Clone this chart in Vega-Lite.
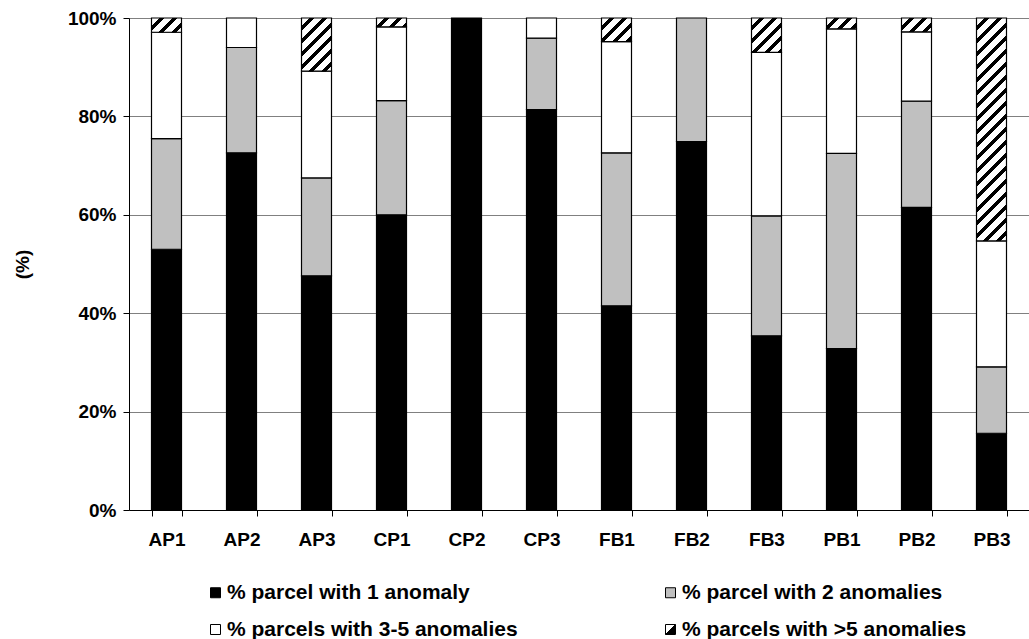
{
  "$schema": "https://vega.github.io/schema/vega-lite/v6.json",
  "width": 900,
  "height": 492,
  "autosize": {"type": "none"},
  "padding": {"left": 129, "top": 18, "right": 0, "bottom": 129},
  "background": "white",
  "config": {"view": {"stroke": null}, "font": "Liberation Sans"},
  "data": {"values": [
    {"Parcel": "AP1", "Category": "% parcel with 1 anomaly", "value": 53.0},
    {"Parcel": "AP1", "Category": "% parcel with 2 anomalies", "value": 22.5},
    {"Parcel": "AP1", "Category": "% parcels with 3-5 anomalies", "value": 21.6},
    {"Parcel": "AP1", "Category": "% parcels with >5 anomalies", "value": 2.9},
    {"Parcel": "AP2", "Category": "% parcel with 1 anomaly", "value": 72.6},
    {"Parcel": "AP2", "Category": "% parcel with 2 anomalies", "value": 21.4},
    {"Parcel": "AP2", "Category": "% parcels with 3-5 anomalies", "value": 6.0},
    {"Parcel": "AP3", "Category": "% parcel with 1 anomaly", "value": 47.6},
    {"Parcel": "AP3", "Category": "% parcel with 2 anomalies", "value": 19.9},
    {"Parcel": "AP3", "Category": "% parcels with 3-5 anomalies", "value": 21.7},
    {"Parcel": "AP3", "Category": "% parcels with >5 anomalies", "value": 10.8},
    {"Parcel": "CP1", "Category": "% parcel with 1 anomaly", "value": 60.0},
    {"Parcel": "CP1", "Category": "% parcel with 2 anomalies", "value": 23.2},
    {"Parcel": "CP1", "Category": "% parcels with 3-5 anomalies", "value": 15.0},
    {"Parcel": "CP1", "Category": "% parcels with >5 anomalies", "value": 1.8},
    {"Parcel": "CP2", "Category": "% parcel with 1 anomaly", "value": 100.0},
    {"Parcel": "CP3", "Category": "% parcel with 1 anomaly", "value": 81.4},
    {"Parcel": "CP3", "Category": "% parcel with 2 anomalies", "value": 14.5},
    {"Parcel": "CP3", "Category": "% parcels with 3-5 anomalies", "value": 4.1},
    {"Parcel": "FB1", "Category": "% parcel with 1 anomaly", "value": 41.5},
    {"Parcel": "FB1", "Category": "% parcel with 2 anomalies", "value": 31.1},
    {"Parcel": "FB1", "Category": "% parcels with 3-5 anomalies", "value": 22.6},
    {"Parcel": "FB1", "Category": "% parcels with >5 anomalies", "value": 4.8},
    {"Parcel": "FB2", "Category": "% parcel with 1 anomaly", "value": 74.9},
    {"Parcel": "FB2", "Category": "% parcel with 2 anomalies", "value": 25.1},
    {"Parcel": "FB3", "Category": "% parcel with 1 anomaly", "value": 35.4},
    {"Parcel": "FB3", "Category": "% parcel with 2 anomalies", "value": 24.4},
    {"Parcel": "FB3", "Category": "% parcels with 3-5 anomalies", "value": 33.2},
    {"Parcel": "FB3", "Category": "% parcels with >5 anomalies", "value": 7.0},
    {"Parcel": "PB1", "Category": "% parcel with 1 anomaly", "value": 32.8},
    {"Parcel": "PB1", "Category": "% parcel with 2 anomalies", "value": 39.7},
    {"Parcel": "PB1", "Category": "% parcels with 3-5 anomalies", "value": 25.3},
    {"Parcel": "PB1", "Category": "% parcels with >5 anomalies", "value": 2.2},
    {"Parcel": "PB2", "Category": "% parcel with 1 anomaly", "value": 61.5},
    {"Parcel": "PB2", "Category": "% parcel with 2 anomalies", "value": 21.6},
    {"Parcel": "PB2", "Category": "% parcels with 3-5 anomalies", "value": 14.1},
    {"Parcel": "PB2", "Category": "% parcels with >5 anomalies", "value": 2.8},
    {"Parcel": "PB3", "Category": "% parcel with 1 anomaly", "value": 15.6},
    {"Parcel": "PB3", "Category": "% parcel with 2 anomalies", "value": 13.5},
    {"Parcel": "PB3", "Category": "% parcels with 3-5 anomalies", "value": 25.6},
    {"Parcel": "PB3", "Category": "% parcels with >5 anomalies", "value": 45.3}
  ]},
  "mark": {"type": "bar", "stroke": "#000", "strokeWidth": 1.2},
  "encoding": {
    "x": {
      "field": "Parcel", "type": "nominal", "sort": null,
      "scale": {"paddingInner": 0.6, "paddingOuter": 0.3},
      "axis": {"title": null, "labelAngle": 0, "labelFontSize": 19, "labelFontWeight": "bold", "labelColor": "#000", "labelPadding": 14, "tickSize": 6, "tickColor": "#000", "domainColor": "#000", "tickBand": "extent", "grid": false}
    },
    "y": {
      "field": "value", "type": "quantitative", "stack": "zero",
      "scale": {"domain": [0, 100], "nice": false},
      "axis": {"values": [0, 20, 40, 60, 80, 100], "labelExpr": "datum.value + '%'", "labelFontSize": 19, "labelFontWeight": "bold", "labelColor": "#000", "labelPadding": 7, "tickSize": 6, "tickColor": "#000", "domainColor": "#000", "grid": true, "gridColor": "#808080", "gridWidth": 1, "title": "(%)", "titleFontSize": 19, "titleFontWeight": "bold", "titleColor": "#000", "titleAngle": -90, "titleX": -107, "titleY": 246, "titleBaseline": "middle", "titleAlign": "center"}
    },
    "order": {"field": "Category", "sort": "ascending"},
    "fill": {
      "field": "Category", "type": "nominal",
      "scale": {
        "domain": ["% parcel with 1 anomaly", "% parcel with 2 anomalies", "% parcels with 3-5 anomalies", "% parcels with >5 anomalies"],
        "range": ["#000000", "#c0c0c0", "#ffffff", "#ffffff"]
      },
      "legend": {"orient": "none", "direction": "horizontal", "legendX": 76, "legendY": 564, "columns": 2, "title": null, "symbolType": "square", "symbolSize": 100, "symbolStrokeColor": "#000", "symbolStrokeWidth": 1, "labelFontSize": 21, "labelFontWeight": "bold", "labelColor": "#000", "labelOffset": 1, "columnPadding": 142, "rowPadding": 15, "labelLimit": 400,
        "encode": {"symbols": {"update": {
          "stroke": {"value": "#000"},
          "strokeWidth": {"value": 1},
          "shape": {"signal": "indexof(datum.value, '>5') >= 0 ? 'M-1,-1H1V1H-1Z M-1,1L1,-1 M-0.8,1L1,-0.8 M-0.6,1L1,-0.6 M-0.4,1L1,-0.4 M-0.2,1L1,-0.2 M0,1L1,0 M0.2,1L1,0.2 M0.4,1L1,0.4 M0.6,1L1,0.6 M0.8,1L1,0.8' : 'square'"}
        }}}
      },
      "condition": [
        {"test": "datum.Parcel === 'AP1' && datum.Category === '% parcels with >5 anomalies'", "value": {"gradient": "linear", "x1": 0, "y1": 0, "x2": 7.062, "y2": 3.366, "stops": [
          {"offset": 0, "color": "#fff"}, {"offset": 0.03, "color": "#fff"}, {"offset": 0.03, "color": "#000"}, {"offset": 0.05, "color": "#000"},
          {"offset": 0.05, "color": "#fff"}, {"offset": 0.08, "color": "#fff"}, {"offset": 0.08, "color": "#000"}, {"offset": 0.10, "color": "#000"},
          {"offset": 0.10, "color": "#fff"}, {"offset": 0.13, "color": "#fff"}, {"offset": 0.13, "color": "#000"}, {"offset": 0.15, "color": "#000"},
          {"offset": 0.15, "color": "#fff"}, {"offset": 0.18, "color": "#fff"}, {"offset": 0.18, "color": "#000"}, {"offset": 0.20, "color": "#000"}]}},
        {"test": "datum.Parcel === 'AP3' && datum.Category === '% parcels with >5 anomalies'", "value": {"gradient": "linear", "x1": 0, "y1": 0, "x2": 2.097, "y2": 3.712, "stops": [
          {"offset": 0, "color": "#fff"}, {"offset": 0.03, "color": "#fff"}, {"offset": 0.03, "color": "#000"}, {"offset": 0.05, "color": "#000"},
          {"offset": 0.05, "color": "#fff"}, {"offset": 0.08, "color": "#fff"}, {"offset": 0.08, "color": "#000"}, {"offset": 0.10, "color": "#000"},
          {"offset": 0.10, "color": "#fff"}, {"offset": 0.13, "color": "#fff"}, {"offset": 0.13, "color": "#000"}, {"offset": 0.15, "color": "#000"},
          {"offset": 0.15, "color": "#fff"}, {"offset": 0.18, "color": "#fff"}, {"offset": 0.18, "color": "#000"}, {"offset": 0.20, "color": "#000"},
          {"offset": 0.20, "color": "#fff"}, {"offset": 0.23, "color": "#fff"}, {"offset": 0.23, "color": "#000"}, {"offset": 0.25, "color": "#000"},
          {"offset": 0.25, "color": "#fff"}, {"offset": 0.28, "color": "#fff"}, {"offset": 0.28, "color": "#000"}, {"offset": 0.30, "color": "#000"},
          {"offset": 0.30, "color": "#fff"}, {"offset": 0.33, "color": "#fff"}, {"offset": 0.33, "color": "#000"}, {"offset": 0.35, "color": "#000"}]}},
        {"test": "datum.Parcel === 'CP1' && datum.Category === '% parcels with >5 anomalies'", "value": {"gradient": "linear", "x1": 0, "y1": 0, "x2": 7.966, "y2": 2.363, "stops": [
          {"offset": 0, "color": "#fff"}, {"offset": 0.03, "color": "#fff"}, {"offset": 0.03, "color": "#000"}, {"offset": 0.05, "color": "#000"},
          {"offset": 0.05, "color": "#fff"}, {"offset": 0.08, "color": "#fff"}, {"offset": 0.08, "color": "#000"}, {"offset": 0.10, "color": "#000"},
          {"offset": 0.10, "color": "#fff"}, {"offset": 0.13, "color": "#fff"}, {"offset": 0.13, "color": "#000"}, {"offset": 0.15, "color": "#000"},
          {"offset": 0.15, "color": "#fff"}, {"offset": 0.18, "color": "#fff"}, {"offset": 0.18, "color": "#000"}, {"offset": 0.20, "color": "#000"}]}},
        {"test": "datum.Parcel === 'FB1' && datum.Category === '% parcels with >5 anomalies'", "value": {"gradient": "linear", "x1": 0, "y1": 0, "x2": 5.353, "y2": 4.211, "stops": [
          {"offset": 0, "color": "#fff"}, {"offset": 0.03, "color": "#fff"}, {"offset": 0.03, "color": "#000"}, {"offset": 0.05, "color": "#000"},
          {"offset": 0.05, "color": "#fff"}, {"offset": 0.08, "color": "#fff"}, {"offset": 0.08, "color": "#000"}, {"offset": 0.10, "color": "#000"},
          {"offset": 0.10, "color": "#fff"}, {"offset": 0.13, "color": "#fff"}, {"offset": 0.13, "color": "#000"}, {"offset": 0.15, "color": "#000"},
          {"offset": 0.15, "color": "#fff"}, {"offset": 0.18, "color": "#fff"}, {"offset": 0.18, "color": "#000"}, {"offset": 0.20, "color": "#000"},
          {"offset": 0.20, "color": "#fff"}, {"offset": 0.23, "color": "#fff"}, {"offset": 0.23, "color": "#000"}, {"offset": 0.25, "color": "#000"}]}},
        {"test": "datum.Parcel === 'FB3' && datum.Category === '% parcels with >5 anomalies'", "value": {"gradient": "linear", "x1": 0, "y1": 0, "x2": 3.744, "y2": 4.293, "stops": [
          {"offset": 0, "color": "#fff"}, {"offset": 0.03, "color": "#fff"}, {"offset": 0.03, "color": "#000"}, {"offset": 0.05, "color": "#000"},
          {"offset": 0.05, "color": "#fff"}, {"offset": 0.08, "color": "#fff"}, {"offset": 0.08, "color": "#000"}, {"offset": 0.10, "color": "#000"},
          {"offset": 0.10, "color": "#fff"}, {"offset": 0.13, "color": "#fff"}, {"offset": 0.13, "color": "#000"}, {"offset": 0.15, "color": "#000"},
          {"offset": 0.15, "color": "#fff"}, {"offset": 0.18, "color": "#fff"}, {"offset": 0.18, "color": "#000"}, {"offset": 0.20, "color": "#000"},
          {"offset": 0.20, "color": "#fff"}, {"offset": 0.23, "color": "#fff"}, {"offset": 0.23, "color": "#000"}, {"offset": 0.25, "color": "#000"},
          {"offset": 0.25, "color": "#fff"}, {"offset": 0.28, "color": "#fff"}, {"offset": 0.28, "color": "#000"}, {"offset": 0.30, "color": "#000"}]}},
        {"test": "datum.Parcel === 'PB1' && datum.Category === '% parcels with >5 anomalies'", "value": {"gradient": "linear", "x1": 0, "y1": 0, "x2": 7.673, "y2": 2.762, "stops": [
          {"offset": 0, "color": "#fff"}, {"offset": 0.03, "color": "#fff"}, {"offset": 0.03, "color": "#000"}, {"offset": 0.05, "color": "#000"},
          {"offset": 0.05, "color": "#fff"}, {"offset": 0.08, "color": "#fff"}, {"offset": 0.08, "color": "#000"}, {"offset": 0.10, "color": "#000"},
          {"offset": 0.10, "color": "#fff"}, {"offset": 0.13, "color": "#fff"}, {"offset": 0.13, "color": "#000"}, {"offset": 0.15, "color": "#000"},
          {"offset": 0.15, "color": "#fff"}, {"offset": 0.18, "color": "#fff"}, {"offset": 0.18, "color": "#000"}, {"offset": 0.20, "color": "#000"}]}},
        {"test": "datum.Parcel === 'PB2' && datum.Category === '% parcels with >5 anomalies'", "value": {"gradient": "linear", "x1": 0, "y1": 0, "x2": 7.153, "y2": 3.291, "stops": [
          {"offset": 0, "color": "#fff"}, {"offset": 0.03, "color": "#fff"}, {"offset": 0.03, "color": "#000"}, {"offset": 0.05, "color": "#000"},
          {"offset": 0.05, "color": "#fff"}, {"offset": 0.08, "color": "#fff"}, {"offset": 0.08, "color": "#000"}, {"offset": 0.10, "color": "#000"},
          {"offset": 0.10, "color": "#fff"}, {"offset": 0.13, "color": "#fff"}, {"offset": 0.13, "color": "#000"}, {"offset": 0.15, "color": "#000"},
          {"offset": 0.15, "color": "#fff"}, {"offset": 0.18, "color": "#fff"}, {"offset": 0.18, "color": "#000"}, {"offset": 0.20, "color": "#000"}]}},
        {"test": "datum.Parcel === 'PB3' && datum.Category === '% parcels with >5 anomalies'", "value": {"gradient": "linear", "x1": 0, "y1": 0, "x2": 0.1542, "y2": 1.1457, "stops": [
          {"offset": 0, "color": "#fff"}, {"offset": 0.03, "color": "#fff"}, {"offset": 0.03, "color": "#000"}, {"offset": 0.05, "color": "#000"},
          {"offset": 0.05, "color": "#fff"}, {"offset": 0.08, "color": "#fff"}, {"offset": 0.08, "color": "#000"}, {"offset": 0.10, "color": "#000"},
          {"offset": 0.10, "color": "#fff"}, {"offset": 0.13, "color": "#fff"}, {"offset": 0.13, "color": "#000"}, {"offset": 0.15, "color": "#000"},
          {"offset": 0.15, "color": "#fff"}, {"offset": 0.18, "color": "#fff"}, {"offset": 0.18, "color": "#000"}, {"offset": 0.20, "color": "#000"},
          {"offset": 0.20, "color": "#fff"}, {"offset": 0.23, "color": "#fff"}, {"offset": 0.23, "color": "#000"}, {"offset": 0.25, "color": "#000"},
          {"offset": 0.25, "color": "#fff"}, {"offset": 0.28, "color": "#fff"}, {"offset": 0.28, "color": "#000"}, {"offset": 0.30, "color": "#000"},
          {"offset": 0.30, "color": "#fff"}, {"offset": 0.33, "color": "#fff"}, {"offset": 0.33, "color": "#000"}, {"offset": 0.35, "color": "#000"},
          {"offset": 0.35, "color": "#fff"}, {"offset": 0.38, "color": "#fff"}, {"offset": 0.38, "color": "#000"}, {"offset": 0.40, "color": "#000"},
          {"offset": 0.40, "color": "#fff"}, {"offset": 0.43, "color": "#fff"}, {"offset": 0.43, "color": "#000"}, {"offset": 0.45, "color": "#000"},
          {"offset": 0.45, "color": "#fff"}, {"offset": 0.48, "color": "#fff"}, {"offset": 0.48, "color": "#000"}, {"offset": 0.50, "color": "#000"},
          {"offset": 0.50, "color": "#fff"}, {"offset": 0.53, "color": "#fff"}, {"offset": 0.53, "color": "#000"}, {"offset": 0.55, "color": "#000"},
          {"offset": 0.55, "color": "#fff"}, {"offset": 0.58, "color": "#fff"}, {"offset": 0.58, "color": "#000"}, {"offset": 0.60, "color": "#000"},
          {"offset": 0.60, "color": "#fff"}, {"offset": 0.63, "color": "#fff"}, {"offset": 0.63, "color": "#000"}, {"offset": 0.65, "color": "#000"},
          {"offset": 0.65, "color": "#fff"}, {"offset": 0.68, "color": "#fff"}, {"offset": 0.68, "color": "#000"}, {"offset": 0.70, "color": "#000"},
          {"offset": 0.70, "color": "#fff"}, {"offset": 0.73, "color": "#fff"}, {"offset": 0.73, "color": "#000"}, {"offset": 0.75, "color": "#000"},
          {"offset": 0.75, "color": "#fff"}, {"offset": 0.78, "color": "#fff"}, {"offset": 0.78, "color": "#000"}, {"offset": 0.80, "color": "#000"},
          {"offset": 0.80, "color": "#fff"}, {"offset": 0.83, "color": "#fff"}, {"offset": 0.83, "color": "#000"}, {"offset": 0.85, "color": "#000"},
          {"offset": 0.85, "color": "#fff"}, {"offset": 0.88, "color": "#fff"}, {"offset": 0.88, "color": "#000"}, {"offset": 0.90, "color": "#000"},
          {"offset": 0.90, "color": "#fff"}, {"offset": 0.93, "color": "#fff"}, {"offset": 0.93, "color": "#000"}, {"offset": 0.95, "color": "#000"},
          {"offset": 0.95, "color": "#fff"}, {"offset": 0.98, "color": "#fff"}, {"offset": 0.98, "color": "#000"}, {"offset": 1.0, "color": "#000"}]}}
      ]
    }
  }
}
